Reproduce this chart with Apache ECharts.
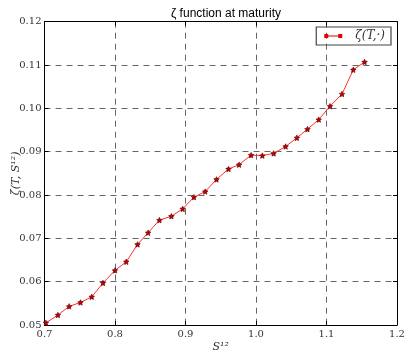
<!DOCTYPE html>
<html><head><meta charset="utf-8">
<script src="https://cdn.jsdelivr.net/npm/echarts@6/dist/echarts.min.js"></script>
<style>html,body{margin:0;padding:0;background:#fff}#c{width:404px;height:352px}</style>
</head><body><div id="c"></div>
<script>
const xValues = [0.702,0.719,0.735,0.751,0.767,0.783,0.800,0.816,0.832,0.847,0.863,0.880,0.896,0.912,0.928,0.944,0.961,0.976,0.993,1.009,1.025,1.042,1.058,1.073,1.089,1.105,1.122,1.138,1.154];
const zetaValues = [0.0505,0.0523,0.0543,0.0552,0.0565,0.0597,0.0626,0.0646,0.0686,0.0713,0.0742,0.0751,0.0768,0.0795,0.0808,0.0836,0.0860,0.0870,0.0892,0.0891,0.0896,0.0912,0.0932,0.0952,0.0974,0.1005,0.1033,0.1089,0.1107];
const seriesName = 'ζ(T,·)';
const titleText = 'ζ function at maturity';
const xLabel = 'S¹²';
const yLabel = 'ζ(T, S¹²)';

const star = 'path://M0,-10 L2.9,-4 L9.5,-3.1 L4.8,1.5 L5.9,8.1 L0,5 L-5.9,8.1 L-4.8,1.5 L-9.5,-3.1 L-2.9,-4 Z';
const legendIcon = 'path://M0,0 L40,0 L40,40 L0,40 Z M0,16 L180,16 L180,25 L0,25 Z M140,0 L180,0 L180,40 L140,40 Z';
const serif = '"DejaVu Serif", "Liberation Serif", serif';
const grid = {left:44.5, right:7, top:21.7, bottom:27, outerBoundsMode:'none', containLabel:false};
const gridLine = {show:true, lineStyle:{color:'#666', type:[6,5], width:1}};
const chart = echarts.init(document.getElementById('c'));
const data = xValues.map((x,i)=>[x, zetaValues[i]]);
chart.setOption({
  animation:false,
  backgroundColor:'#fff',
  title:{text:titleText, left:221, textAlign:'center', top:3,
    textStyle:{fontFamily:'"Liberation Sans", Arial, sans-serif', fontSize:12, fontWeight:'normal', color:'#000'}},
  legend:{data:[seriesName], right:13, top:27, orient:'horizontal',
    borderColor:'#444', borderWidth:1.2, padding:[3,6,3,8], itemWidth:18, itemHeight:4, itemGap:6,
    icon:legendIcon, itemStyle:{color:'#e00000', borderWidth:0},
    textStyle:{fontFamily:serif, fontStyle:'italic', fontSize:12, color:'#333', padding:[0,0,0,8]}},
  grid:grid,
  xAxis:[{type:'value', min:0.7, max:1.2, interval:0.1,
    axisLine:{show:true, onZero:false, lineStyle:{color:'#000', width:1}},
    axisTick:{show:true, inside:true, length:4, lineStyle:{color:'#000'}},
    axisLabel:{formatter:v=>v.toFixed(1), fontFamily:serif, fontSize:10, color:'#333', margin:4},
    splitLine:gridLine,
    name:xLabel, nameLocation:'middle', nameGap:17, nameMoveOverlap:false,
    nameTextStyle:{fontFamily:serif, fontStyle:'italic', fontSize:11, color:'#333'}},
   {type:'value', position:'top', min:0.7, max:1.2, interval:0.1,
    axisLine:{show:true, onZero:false, lineStyle:{color:'#000', width:1}},
    axisTick:{show:true, inside:true, length:4, lineStyle:{color:'#000'}},
    axisLabel:{show:false}, splitLine:{show:false}}],
  yAxis:[{type:'value', min:0.05, max:0.12, interval:0.01,
    axisLine:{show:true, onZero:false, lineStyle:{color:'#000', width:1}},
    axisTick:{show:true, inside:true, length:4, lineStyle:{color:'#000'}},
    axisLabel:{formatter:v=>v.toFixed(2), fontFamily:serif, fontSize:10, color:'#333', margin:3},
    splitLine:gridLine,
    name:yLabel, nameLocation:'middle', nameGap:28, nameRotate:90, nameMoveOverlap:false,
    nameTextStyle:{fontFamily:serif, fontStyle:'italic', fontSize:11, color:'#333', verticalAlign:'middle'}},
   {type:'value', position:'right', min:0.05, max:0.12, interval:0.01,
    axisLine:{show:true, onZero:false, lineStyle:{color:'#000', width:1}},
    axisTick:{show:true, inside:true, length:4, lineStyle:{color:'#000'}},
    axisLabel:{show:false}, splitLine:{show:false}}],
  series:[{name:seriesName, type:'line', data:data, xAxisIndex:0, yAxisIndex:0,
    symbol:star, symbolSize:5.5,
    lineStyle:{color:'#ff3030', width:1},
    itemStyle:{color:'#c00000', borderColor:'#5a0000', borderWidth:0.6},
    clip:false}]
});
</script></body></html>
